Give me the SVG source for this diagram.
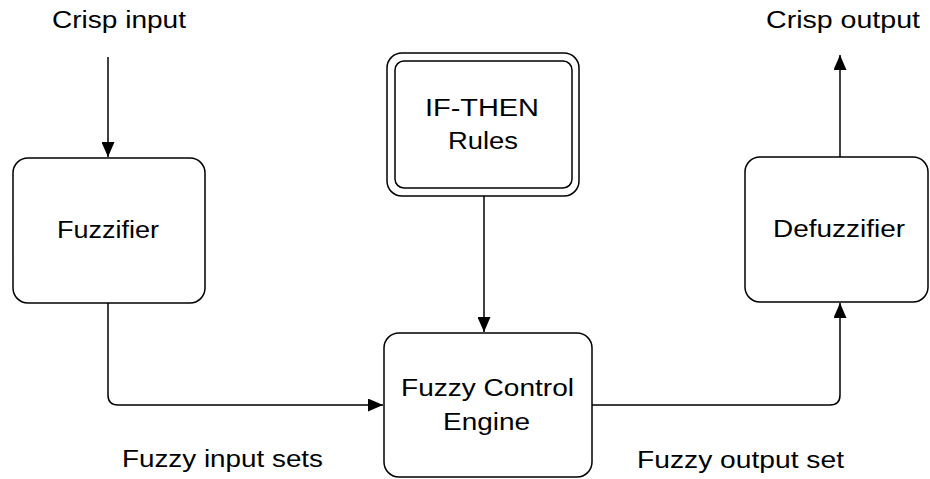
<svg xmlns="http://www.w3.org/2000/svg" width="930" height="479" viewBox="0 0 930 479">
<style>
.box{fill:#fff;stroke:#000;stroke-width:1.5}
.ln{fill:none;stroke:#000;stroke-width:1.5}
text{font-family:"Liberation Sans",Arial,sans-serif;font-size:23.5px;fill:#000;text-anchor:middle}
</style>
<defs>
<marker id="ah2" viewBox="0 0 15 13" refX="15" refY="6.5" markerWidth="15" markerHeight="13" markerUnits="userSpaceOnUse" orient="auto">
<path d="M0,0 L15,6.5 L0,13 z" fill="#000"/>
</marker>
</defs>
<g id="connectors">
<path class="ln" d="M108,57 V157" marker-end="url(#ah2)"/>
<path class="ln" d="M108,303 V395 Q108,405 118,405 H383" marker-end="url(#ah2)"/>
<path class="ln" d="M484,196 V332" marker-end="url(#ah2)"/>
<path class="ln" d="M592,405 H830 Q840,405 840,395 V303" marker-end="url(#ah2)"/>
<path class="ln" d="M840,157 V55" marker-end="url(#ah2)"/>
</g>
<g id="crisp-input"><text x="119" y="28" textLength="134" lengthAdjust="spacingAndGlyphs">Crisp input</text></g>
<g id="crisp-output"><text x="843" y="28" textLength="154" lengthAdjust="spacingAndGlyphs">Crisp output</text></g>
<g id="fuzzifier">
<rect class="box" x="13" y="158" width="192" height="145" rx="15"/>
<text x="108" y="238" textLength="102" lengthAdjust="spacingAndGlyphs">Fuzzifier</text>
</g>
<g id="rules">
<rect class="box" x="387" y="53" width="192" height="143" rx="15"/>
<rect class="box" x="395" y="61" width="177" height="127" rx="9"/>
<text x="482" y="116" textLength="114" lengthAdjust="spacingAndGlyphs">IF-THEN</text>
<text x="483" y="149" textLength="70" lengthAdjust="spacingAndGlyphs">Rules</text>
</g>
<g id="engine">
<rect class="box" x="384" y="333" width="208" height="144" rx="15"/>
<text x="487.5" y="396" textLength="173" lengthAdjust="spacingAndGlyphs">Fuzzy Control</text>
<text x="486.5" y="430" textLength="87" lengthAdjust="spacingAndGlyphs">Engine</text>
</g>
<g id="defuzzifier">
<rect class="box" x="745" y="157" width="183" height="145" rx="15"/>
<text x="839" y="237" textLength="132" lengthAdjust="spacingAndGlyphs">Defuzzifier</text>
</g>
<g id="label-in"><text x="222.5" y="467" textLength="201" lengthAdjust="spacingAndGlyphs">Fuzzy input sets</text></g>
<g id="label-out"><text x="740.5" y="468" textLength="207" lengthAdjust="spacingAndGlyphs">Fuzzy output set</text></g>
</svg>
